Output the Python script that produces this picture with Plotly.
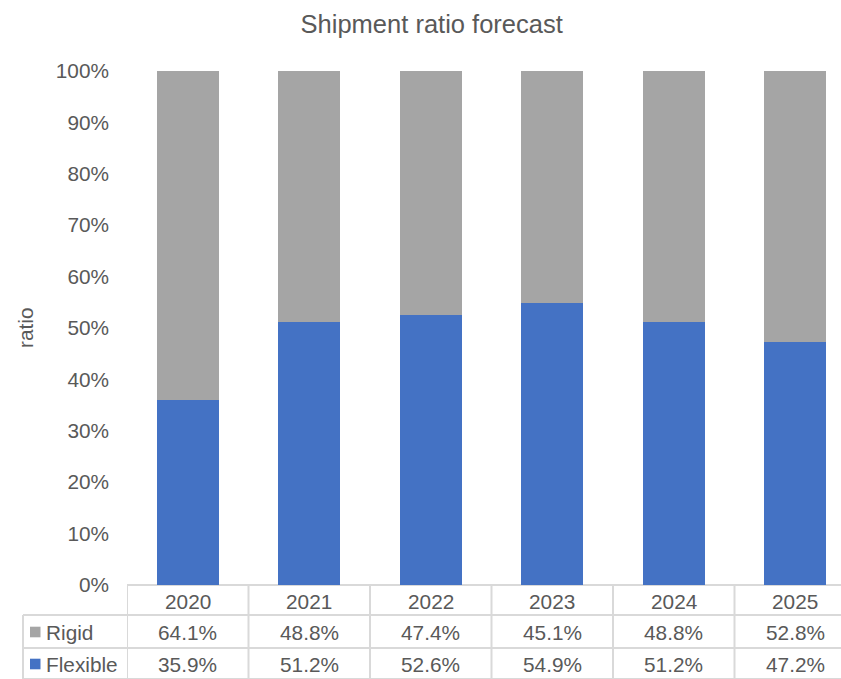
import plotly.graph_objects as go

years = ["2020", "2021", "2022", "2023", "2024", "2025"]
rigid = [64.1, 48.8, 47.4, 45.1, 48.8, 52.8]
flexible = [35.9, 51.2, 52.6, 54.9, 51.2, 47.2]
y_ticks = [0, 10, 20, 30, 40, 50, 60, 70, 80, 90, 100]

W, H = 841, 679
L, T, B = 127, 71, 585
PW = W - L
PH = B - T
CAT_PX = 121.5

BLUE = "#4472C4"
GRAY = "#A5A5A5"
TXT = "#595959"
GRID = "#D9D9D9"
FONT = "Liberation Sans, Arial, sans-serif"
FS = 20.8

def py(p):  # pixel y -> paper y
    return (B - p) / PH

def px(p):  # pixel x -> paper x
    return (p - L) / PW

xs = list(range(len(years)))
fig = go.Figure()
fig.add_trace(go.Bar(x=xs, y=[v / 100 for v in flexible], name="Flexible",
                     marker=dict(color=BLUE, line=dict(width=0)), width=0.51))
fig.add_trace(go.Bar(x=xs, y=[v / 100 for v in rigid], name="Rigid",
                     marker=dict(color=GRAY, line=dict(width=0)), width=0.51))

shapes = []
x_end = -0.5 + PW / CAT_PX
# horizontal table lines
for yy, x0 in [(585, L), (615, 23), (648, 23), (679, 23)]:
    shapes.append(dict(type="line", xref="paper", yref="paper", x0=px(x0), x1=1,
                       y0=py(yy), y1=py(yy), line=dict(color=GRID, width=2), layer="below"))
# vertical lines
shapes.append(dict(type="line", xref="paper", yref="paper", x0=px(23), x1=px(23),
                   y0=py(615), y1=py(680), line=dict(color=GRID, width=2)))
for k in range(len(years) + 1):
    shapes.append(dict(type="line", xref="x", yref="paper", x0=k - 0.5, x1=k - 0.5,
                       y0=py(585), y1=py(680), line=dict(color=GRID, width=2)))
# legend keys
for color, yc in [(GRAY, 632), (BLUE, 664)]:
    shapes.append(dict(type="rect", xref="paper", yref="paper", x0=px(30), x1=px(40.5),
                       y0=py(yc - 5.3), y1=py(yc + 5.3), fillcolor=color, line=dict(width=0)))

ann = []
tf = dict(family=FONT, size=FS, color=TXT)
for i, yr in enumerate(years):
    ann.append(dict(x=i, y=py(601), xref="x", yref="paper", text=yr, showarrow=False,
                    yanchor="middle", font=tf))
    ann.append(dict(x=i, y=py(632), xref="x", yref="paper", text=f"{rigid[i]:.1f}%",
                    showarrow=False, yanchor="middle", font=tf))
    ann.append(dict(x=i, y=py(664), xref="x", yref="paper", text=f"{flexible[i]:.1f}%",
                    showarrow=False, yanchor="middle", font=tf))
ann.append(dict(x=px(44), y=py(632), xref="paper", yref="paper", text="Rigid", xanchor="left",
                yanchor="middle", showarrow=False, font=tf))
ann.append(dict(x=px(44), y=py(664), xref="paper", yref="paper", text="Flexible", xanchor="left",
                yanchor="middle", showarrow=False, font=tf))
ann.append(dict(x=px(25), y=0.5, xref="paper", yref="paper", text="ratio", textangle=-90,
                xanchor="center", yanchor="middle", showarrow=False, font=tf))

fig.update_layout(
    width=W, height=H,
    margin=dict(l=L, r=0, t=T, b=H - B),
    barmode="stack",
    plot_bgcolor="white", paper_bgcolor="white",
    showlegend=False,
    title=dict(text="Shipment ratio forecast", x=431.7 / W, xref="container", xanchor="center",
               y=1 - 24 / H, yanchor="middle", font=dict(family=FONT, size=25.5, color=TXT)),
    xaxis=dict(range=[-0.5, x_end], showticklabels=False, showgrid=False, zeroline=False,
               showline=False, fixedrange=True),
    yaxis=dict(range=[0, 1], tickvals=[v / 100 for v in y_ticks],
               ticktext=[f"{v}%" for v in y_ticks], showgrid=False, zeroline=False,
               showline=False, ticks="", ticklabelstandoff=17,
               tickfont=dict(family=FONT, size=FS, color=TXT)),
    shapes=shapes, annotations=ann,
)
fig.write_html("out.html")
